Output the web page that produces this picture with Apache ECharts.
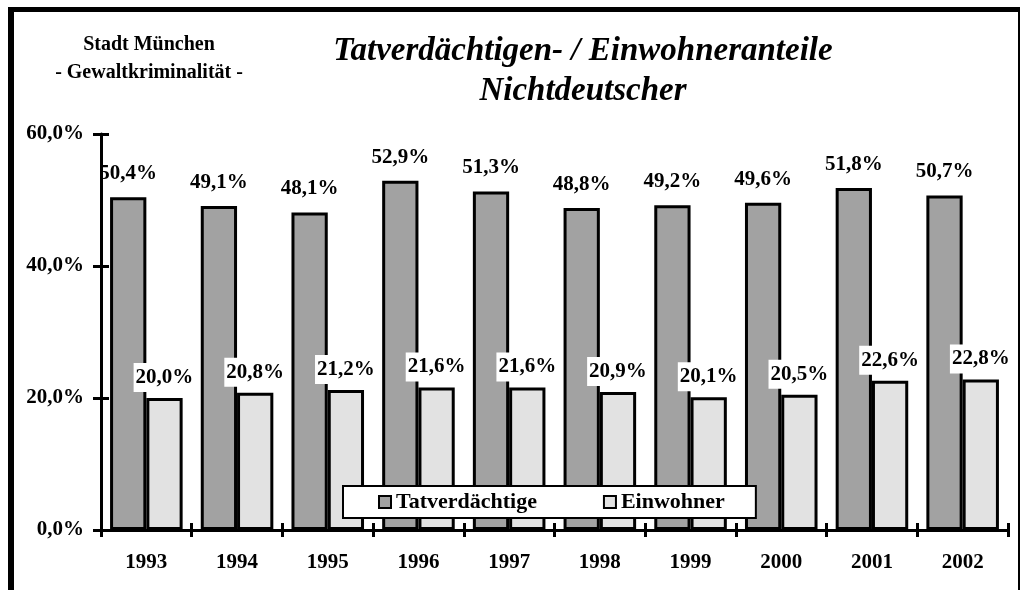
<!DOCTYPE html>
<html>
<head>
<meta charset="utf-8">
<script src="https://cdn.jsdelivr.net/npm/echarts@6/dist/echarts.min.js"></script>
<style>html,body{margin:0;padding:0;background:#fff;}#c{width:1020px;height:590px;}</style>
</head>
<body>
<div id="c"></div>
<script>
var years = ['1993','1994','1995','1996','1997','1998','1999','2000','2001','2002'];
var tatverdaechtige = [50.4, 49.1, 48.1, 52.9, 51.3, 48.8, 49.2, 49.6, 51.8, 50.7];
var einwohner = [20.0, 20.8, 21.2, 21.6, 21.6, 20.9, 20.1, 20.5, 22.6, 22.8];
var seriesNames = ['Tatverdächtige', 'Einwohner'];
var titleText = 'Tatverdächtigen- / Einwohneranteile\nNichtdeutscher';
var subtitleText = 'Stadt München\n- Gewaltkriminalität -';

var FONT = "'Liberation Serif', 'Times New Roman', serif";
function pct(v){ return v.toFixed(1).replace('.', ',') + '%'; }

var chart = echarts.init(document.getElementById('c'), null, {renderer:'canvas'});
chart.setOption({
  backgroundColor: '#ffffff',
  animation: false,
  title: [
    {
      text: titleText, left: 578, top: 26, textAlign: 'center',
      textStyle: {fontFamily: FONT, fontSize: 33, fontWeight: 'bold', fontStyle: 'italic', color: '#000', lineHeight: 40}
    },
    {
      text: subtitleText, left: 144, top: 26, textAlign: 'center',
      textStyle: {fontFamily: FONT, fontSize: 20, fontWeight: 'bold', color: '#000', lineHeight: 28}
    }
  ],
  legend: {
    data: seriesNames,
    left: 343, top: 486,
    orient: 'horizontal',
    padding: [5, 31, 5, 35],
    itemGap: 66,
    itemWidth: 12, itemHeight: 12,
    icon: 'rect',
    backgroundColor: '#ffffff',
    borderColor: '#000', borderWidth: 2,
    textStyle: {fontFamily: FONT, fontSize: 22, fontWeight: 'bold', color: '#000'}
  },
  grid: {left: 101, right: 12, top: 134, bottom: 60, containLabel: false},
  xAxis: [
    {
      type: 'category', data: years, boundaryGap: true,
      axisLine: {show: true, lineStyle: {color: '#000', width: 3}},
      axisTick: {show: true, inside: false, length: 7, lineStyle: {color: '#000', width: 3}},
      axisLabel: {margin: 22, fontFamily: FONT, fontSize: 21, fontWeight: 'bold', color: '#000'},
      splitLine: {show: false}
    },
    {
      type: 'category', data: years, boundaryGap: true, position: 'bottom',
      axisLine: {show: false},
      axisTick: {show: true, inside: true, length: 7, lineStyle: {color: '#000', width: 3}},
      axisLabel: {show: false},
      splitLine: {show: false}
    }
  ],
  yAxis: [
    {
      type: 'value', min: 0, max: 60, interval: 20,
      axisLine: {show: true, lineStyle: {color: '#000', width: 3}},
      axisTick: {show: true, inside: false, length: 8, lineStyle: {color: '#000', width: 3}},
      axisLabel: {margin: 17, fontFamily: FONT, fontSize: 21, fontWeight: 'bold', color: '#000', formatter: function(v){ return pct(v); }},
      splitLine: {show: false}
    },
    {
      type: 'value', min: 0, max: 60, interval: 20, position: 'left',
      axisLine: {show: false},
      axisTick: {show: true, inside: true, length: 8, lineStyle: {color: '#000', width: 3}},
      axisLabel: {show: false},
      splitLine: {show: false}
    }
  ],
  series: [
    {
      name: seriesNames[0], type: 'bar', data: tatverdaechtige,
      xAxisIndex: 0, yAxisIndex: 0,
      barGap: '0%', barCategoryGap: '20%',
      itemStyle: {color: '#a2a2a2', borderColor: '#000', borderWidth: 3},
      label: {show: true, position: 'top', distance: 13, fontFamily: FONT, fontSize: 21, fontWeight: 'bold', color: '#000',
        formatter: function(p){ return pct(p.value); }}
    },
    {
      name: seriesNames[1], type: 'bar', data: einwohner,
      xAxisIndex: 0, yAxisIndex: 0,
      barGap: '0%', barCategoryGap: '20%',
      itemStyle: {color: '#e2e2e2', borderColor: '#000', borderWidth: 3},
      label: {show: true, position: 'top', distance: 6, fontFamily: FONT, fontSize: 21, fontWeight: 'bold', color: '#000',
        backgroundColor: '#ffffff', padding: [4, 2, 4, 2],
        formatter: function(p){ return pct(p.value); }}
    }
  ],
  graphic: [
    {type: 'rect', shape: {x: 8, y: 7, width: 1012, height: 5}, style: {fill: '#000'}, z: 100},
    {type: 'rect', shape: {x: 8, y: 7, width: 6, height: 583}, style: {fill: '#000'}, z: 100},
    {type: 'rect', shape: {x: 1018, y: 7, width: 2, height: 583}, style: {fill: '#000'}, z: 100}
  ]
});
</script>
</body>
</html>
